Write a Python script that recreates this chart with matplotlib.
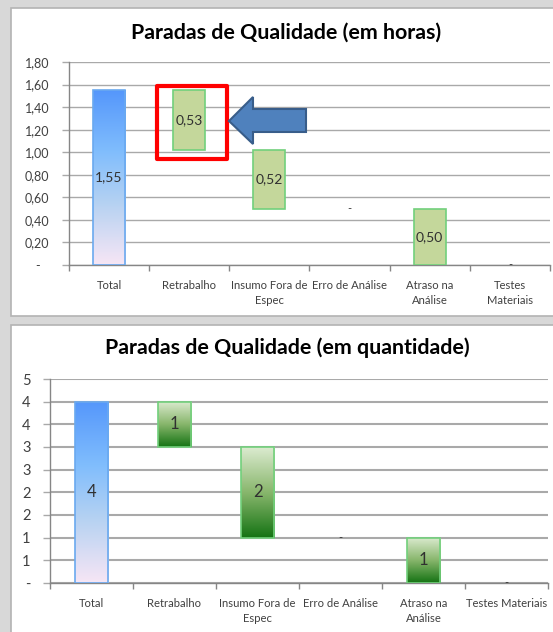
import numpy as np
import matplotlib
matplotlib.use('Agg')
import matplotlib.pyplot as plt
import matplotlib.patches as mpatches
from matplotlib.colors import LinearSegmentedColormap
from matplotlib.transforms import ScaledTranslation

plt.rcParams['font.family'] = ['Lato', 'DejaVu Sans']

# dados
categorias_horas = ['Total', 'Retrabalho', 'Insumo Fora de\nEspec', 'Erro de Análise',
                    'Atraso na\nAnálise', 'Testes\nMateriais']
categorias_qtd = ['Total', 'Retrabalho', 'Insumo Fora de\nEspec', 'Erro de Análise',
                  'Atraso na\nAnálise', 'Testes Materiais']
horas = [1.55, 0.53, 0.52, 0.00, 0.50, 0.00]
quantidade = [4, 1, 2, 0, 1, 0]
yticks_horas = [0, 0.2, 0.4, 0.6, 0.8, 1.0, 1.2, 1.4, 1.6, 1.8]
yticks_qtd = [0, 0.5, 1.0, 1.5, 2.0, 2.5, 3.0, 3.5, 4.0, 4.5]

W, H = 553, 632
TXT = '#404040'
GRID = '#a9a9a9'

cmap_total = LinearSegmentedColormap.from_list(
    'total', [(0, '#f7e6f5'), (0.35, '#b6d2f2'), (0.65, '#80bdfd'), (1, '#5597fb')])
cmap_verde = LinearSegmentedColormap.from_list(
    'verde', [(0, '#147313'), (0.5, '#88b66c'), (1, '#dcebd0')])


def px(x, y):
    # pixel (origem no topo) -> fração da figura
    return x / W, 1 - y / H


def waterfall(values):
    bottoms, level = [0.0], values[0]
    for v in values[1:]:
        level -= v
        bottoms.append(level)
    return bottoms


def fmt_horas(v):
    return '-' if abs(v) < 1e-9 else f'{v:.2f}'.replace('.', ',')


def fmt_qtd(v):
    return '-' if abs(v) < 1e-9 else str(int(np.floor(v + 0.5)))


def draw(ax, cats, values, yticks, fmt, ytick_size, val_size, grid_lw,
         step_color=None, dash_shift=0.0):
    bottoms = waterfall(values)
    x = np.arange(len(values))
    grad = np.linspace(0, 1, 256).reshape(-1, 1)
    for i, (v, b) in enumerate(zip(values, bottoms)):
        if i == 0:
            edge = '#6aa9ef'
        else:
            edge = '#72d07c'
        face = step_color if (i > 0 and step_color) else 'none'
        bar = ax.bar(x[i], v, 0.4, bottom=b, facecolor=face, edgecolor=edge,
                     linewidth=1.2 if v > 0 else 0, zorder=3)[0]
        if v > 0 and (i == 0 or step_color is None):
            cm = cmap_total if i == 0 else cmap_verde
            im = ax.imshow(grad, extent=(x[i] - 0.2, x[i] + 0.2, b, b + v),
                           origin='lower', aspect='auto', cmap=cm, zorder=2)
            im.set_clip_path(bar)
        ax.text(x[i], b + v / 2, fmt(v), ha='center', va='center',
                fontsize=val_size if v > 0 else 8, color='#303030', zorder=4)

    ax.set_xlim(-0.5, len(values) - 0.5)
    ax.set_ylim(yticks[0], yticks[-1])
    ax.set_yticks(yticks)
    ax.set_yticklabels([fmt(t) for t in yticks])
    ax.yaxis.grid(True, color=GRID, linewidth=grid_lw)
    ax.set_axisbelow(True)
    ax.tick_params(axis='y', length=5, width=1, color=GRID, pad=9,
                   labelsize=ytick_size, labelcolor=TXT)
    if dash_shift:
        lab = ax.get_yticklabels()[0]
        lab.set_transform(lab.get_transform() +
                          ScaledTranslation(-dash_shift / 100, 0, ax.figure.dpi_scale_trans))

    ax.set_xticks(np.arange(len(values) + 1) - 0.5)
    ax.set_xticklabels([])
    ax.tick_params(axis='x', which='major', length=4, width=1, color='#868686')
    ax.set_xticks(x, minor=True)
    ax.set_xticklabels(cats, minor=True, fontsize=8.1, color=TXT, linespacing=1.4)
    ax.tick_params(axis='x', which='minor', length=0, pad=11)
    for s in ('top', 'right'):
        ax.spines[s].set_visible(False)
    for s in ('left', 'bottom'):
        ax.spines[s].set_color('#868686')
        ax.spines[s].set_linewidth(1)


fig = plt.figure(figsize=(W / 100, H / 100), dpi=100, facecolor='#d8d8d8')

# painéis brancos (estilo Excel), atrás dos eixos
x0, y0 = px(11, 316)
fig.add_artist(mpatches.Rectangle((x0, y0), 1.2, (316 - 8) / H, transform=fig.transFigure,
                                  facecolor='white', edgecolor='#b3b3b3', linewidth=1.2,
                                  zorder=-5))
x0, y0 = px(11, 700)
fig.add_artist(mpatches.Rectangle((x0, y0), 1.2, (700 - 325) / H, transform=fig.transFigure,
                                  facecolor='white', edgecolor='#b3b3b3', linewidth=1.2,
                                  zorder=-5))

# gráfico superior (horas)
l, b = px(69, 265)
ax1 = fig.add_axes([l, b, (550 - 69) / W, (265 - 62) / H], facecolor='none')
draw(ax1, categorias_horas, horas, yticks_horas, fmt_horas, 9, 10, 1.0,
     step_color='#c4d79b', dash_shift=10)
fig.text(*px(286, 33), 'Paradas de Qualidade (em horas)', ha='center', va='center',
         fontsize=15.4, fontweight='bold', color='black')

# destaque: retângulo vermelho e seta azul
ax1.add_patch(mpatches.Rectangle((0.6, 0.94), 0.87, 0.647, fill=False, edgecolor='#ff0000',
                                 linewidth=3, joinstyle='round', zorder=5, clip_on=False))
arrow_px = [(229, 121), (253, 97), (253, 109), (306, 109), (306, 132), (253, 132), (253, 144)]
fig.add_artist(mpatches.Polygon([px(*p) for p in arrow_px], closed=True, transform=fig.transFigure,
                                facecolor='#4f81bd', edgecolor='#385d8a', linewidth=1.5, zorder=6))

# gráfico inferior (quantidade)
l, b = px(50, 583)
ax2 = fig.add_axes([l, b, (548 - 50) / W, (583 - 379) / H], facecolor='none')
draw(ax2, categorias_qtd, quantidade, yticks_qtd, fmt_qtd, 10.5, 12, 1.5)
fig.text(*px(287, 348), 'Paradas de Qualidade (em quantidade)', ha='center', va='center',
         fontsize=15.4, fontweight='bold', color='black')

fig.savefig('out.png', dpi=100, facecolor=fig.get_facecolor())
